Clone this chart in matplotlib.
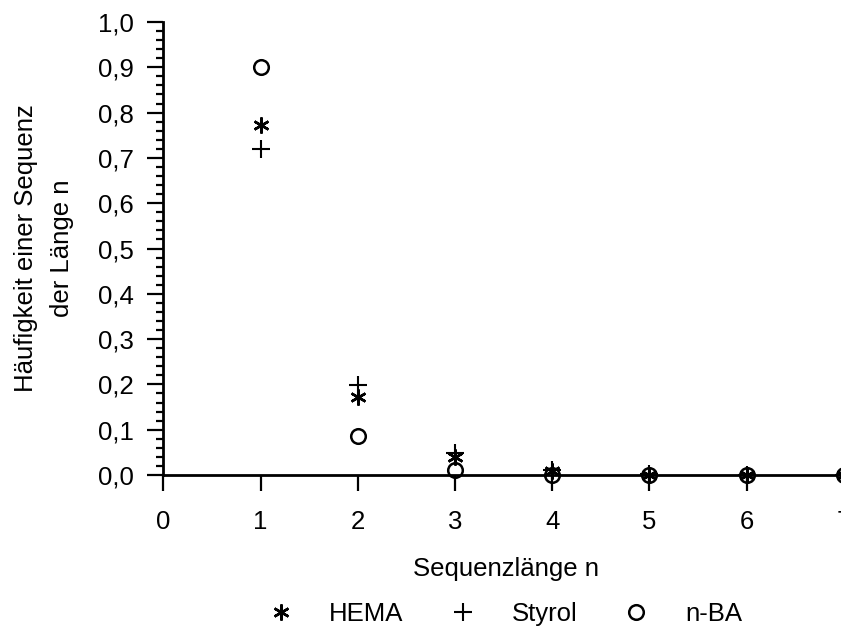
import matplotlib
matplotlib.use("Agg")
import matplotlib.pyplot as plt
from matplotlib.lines import Line2D
from matplotlib.ticker import MultipleLocator, FuncFormatter

plt.rcParams['font.family'] = ['Liberation Sans', 'DejaVu Sans']

n = [1, 2, 3, 4, 5, 6, 7]
hema = [0.773, 0.172, 0.040, 0.009, 0.001, 0.0, 0.0]
styrol = [0.720, 0.198, 0.048, 0.012, 0.002, 0.0, 0.0]
nba = [0.900, 0.086, 0.010, 0.001, 0.0, 0.0, 0.0]

series_names = ["HEMA", "Styrol", "n-BA"]

fs = 18.5
fig = plt.figure(figsize=(8.41, 6.29), dpi=100)
ax = fig.add_axes([0.1942, 0.2448, 0.8148, 0.7202])

star = (6, 2, 0)
st_hema = dict(ls='none', marker=star, ms=11.5, color='black', mew=1.8)
st_sty = dict(ls='none', marker='+', ms=13, color='black', mew=1.5)
st_nba = dict(ls='none', marker='o', ms=10.5, mfc='none', mec='black', mew=1.8)

ax.plot(n, nba, clip_on=False, **st_nba)
ax.plot(n, hema, clip_on=False, **st_hema)
ax.plot(n, styrol, clip_on=False, **st_sty)

ax.set_xlim(0, 7.05)
ax.set_ylim(0, 1.0)
ax.spines['top'].set_visible(False)
ax.spines['right'].set_visible(False)
ax.spines['left'].set_linewidth(2)
ax.spines['bottom'].set_linewidth(2)

ax.xaxis.set_major_locator(MultipleLocator(1))
ax.yaxis.set_major_locator(MultipleLocator(0.1))
ax.yaxis.set_minor_locator(MultipleLocator(0.02))
comma = FuncFormatter(lambda v, p: f"{v:.1f}".replace('.', ','))
ax.yaxis.set_major_formatter(comma)
ax.tick_params(axis='both', which='major', direction='out', length=11.5, width=1.6, labelsize=fs)
ax.tick_params(axis='y', which='major', pad=10)
ax.tick_params(axis='x', which='major', pad=14)
ax.tick_params(axis='y', which='minor', direction='out', length=5, width=1.6)

ax.set_xlabel("Sequenzlänge n", fontsize=fs, labelpad=16)
fig.text(44 / 841, 0.5 * (0.2448 + 0.2448 + 0.7202), "Häufigkeit einer Sequenz\nder Länge n",
         fontsize=fs, rotation=90, ha='center', va='center', multialignment='center',
         linespacing=1.65)

handles = [Line2D([], [], **st_hema), Line2D([], [], **st_sty), Line2D([], [], **st_nba)]
fig.legend(handles, series_names, loc='center', bbox_to_anchor=(505 / 841, 1 - 614 / 629),
           ncol=3, frameon=False, fontsize=fs, handlelength=1.0, handletextpad=1.4,
           columnspacing=1.8, borderpad=0)

fig.savefig("out.png", dpi=100)
